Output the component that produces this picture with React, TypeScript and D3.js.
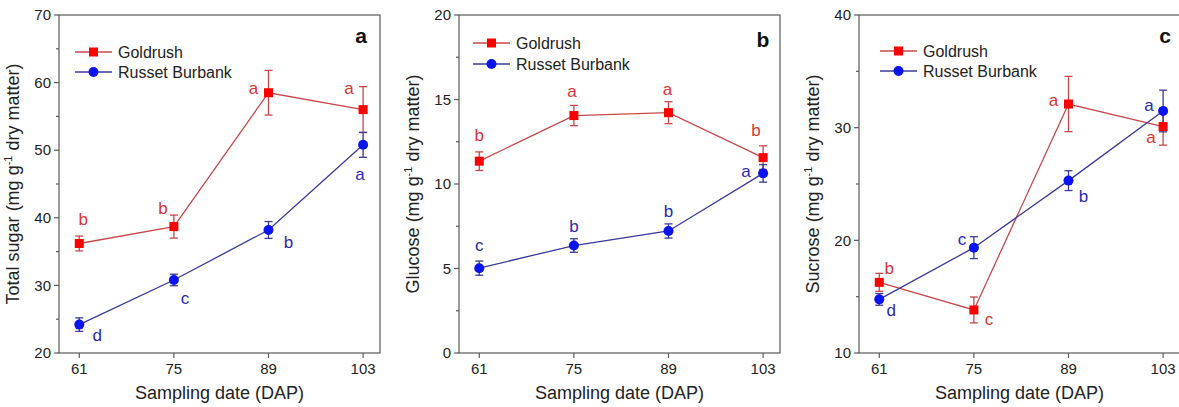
import React from "react";
import * as d3 from "d3";

const dap = [61, 75, 89, 103];
const seriesNames = ["Goldrush", "Russet Burbank"];

// Panel a: total sugar
const sugarGold = [36.2, 38.7, 58.5, 56.0];
const sugarGoldErr = [1.1, 1.7, 3.3, 3.4];
const sugarRusset = [24.2, 30.8, 38.2, 50.8];
const sugarRussetErr = [1.0, 0.85, 1.25, 1.85];
const sugarGoldLetters = ["b", "b", "a", "a"];
const sugarRussetLetters = ["d", "c", "b", "a"];

// Panel b: glucose
const glucGold = [11.35, 14.05, 14.22, 11.56];
const glucGoldErr = [0.55, 0.6, 0.65, 0.7];
const glucRusset = [5.02, 6.36, 7.22, 10.63];
const glucRussetErr = [0.42, 0.4, 0.42, 0.52];
const glucGoldLetters = ["b", "a", "a", "b"];
const glucRussetLetters = ["c", "b", "b", "a"];

// Panel c: sucrose
const sucGold = [16.27, 13.82, 32.1, 30.1];
const sucGoldErr = [0.8, 1.15, 2.45, 1.65];
const sucRusset = [14.76, 19.35, 25.3, 31.48];
const sucRussetErr = [0.52, 0.97, 0.88, 1.85];
const sucGoldLetters = ["b", "c", "a", "a"];
const sucRussetLetters = ["d", "c", "b", "a"];

// letter placement offsets (dx to centre, dy to baseline) in px
const offA = {
  g: [[4, -18], [-11, -13], [-15, 1], [-14, -16]],
  r: [[18, 16], [11, 24], [20, 18], [-3, 35]],
};
const offB = {
  g: [[0, -20], [-2, -19], [-1, -18], [-7, -22]],
  r: [[0, -17], [0, -14], [0, -14], [-17, 4]],
};
const offC = {
  g: [[10, -8], [15, 15], [-15, 2], [-12, 16]],
  r: [[12, 17], [-12, -3], [15, 21], [-14, 0]],
};

const RED = "#ff0000";
const RED_LINE = "#c8484a";
const RED_TEXT = "#dd3333";
const BLUE = "#0a14f0";
const BLUE_LINE = "#3a3a98";
const BLUE_TEXT = "#2a2ab0";
const AXIS = "#5a5a5a";
const FONT = "Liberation Sans, Arial, sans-serif";

interface PanelCfg {
  left: number;
  yDomain: [number, number];
  major: number;
  minor: number;
  yLabel: string;
  tag: string;
  tagPos: [number, number];
  legend: [number, number, number]; // line start x, row1 y, row2 y
  gold: number[];
  goldErr: number[];
  russet: number[];
  russetErr: number[];
  goldLetters: string[];
  russetLetters: string[];
  off: { g: number[][]; r: number[][] };
}

const panels: PanelCfg[] = [
  {
    left: 59, yDomain: [20, 70], major: 10, minor: 5, yLabel: "Total sugar",
    tag: "a", tagPos: [361, 43], legend: [75, 52, 72],
    gold: sugarGold, goldErr: sugarGoldErr, russet: sugarRusset, russetErr: sugarRussetErr,
    goldLetters: sugarGoldLetters, russetLetters: sugarRussetLetters, off: offA,
  },
  {
    left: 459, yDomain: [0, 20], major: 5, minor: 2.5, yLabel: "Glucose",
    tag: "b", tagPos: [763, 47], legend: [473, 43, 64],
    gold: glucGold, goldErr: glucGoldErr, russet: glucRusset, russetErr: glucRussetErr,
    goldLetters: glucGoldLetters, russetLetters: glucRussetLetters, off: offB,
  },
  {
    left: 859, yDomain: [10, 40], major: 10, minor: 5, yLabel: "Sucrose",
    tag: "c", tagPos: [1165, 43], legend: [880, 51, 71],
    gold: sucGold, goldErr: sucGoldErr, russet: sucRusset, russetErr: sucRussetErr,
    goldLetters: sucGoldLetters, russetLetters: sucRussetLetters, off: offC,
  },
];

const TOP = 15;
const BOTTOM = 353;
const WIDTH = 321;

function Panel({ p }: { p: PanelCfg }) {
  const x = d3.scaleLinear().domain([58, 105.5]).range([p.left, p.left + WIDTH]);
  const y = d3.scaleLinear().domain(p.yDomain).range([BOTTOM, TOP]);
  const majors = d3.range(p.yDomain[0], p.yDomain[1] + 0.001, p.major);
  const minors = d3.range(p.yDomain[0], p.yDomain[1] + 0.001, p.minor).filter(
    (v) => Math.abs(v / p.major - Math.round(v / p.major)) > 1e-6
  );
  const line = d3.line<number>().x((_, i) => x(dap[i])).y((v) => y(v));
  const series = [
    { vals: p.gold, err: p.goldErr, lc: RED_LINE, mc: RED, tc: RED_TEXT, letters: p.goldLetters, off: p.off.g, shape: "sq" },
    { vals: p.russet, err: p.russetErr, lc: BLUE_LINE, mc: BLUE, tc: BLUE_TEXT, letters: p.russetLetters, off: p.off.r, shape: "ci" },
  ];
  const cx = p.left + WIDTH / 2;
  const cy = (TOP + BOTTOM) / 2;
  const [lx, ly1, ly2] = p.legend;
  return (
    <g>
      {/* frame */}
      <rect x={p.left} y={TOP} width={WIDTH} height={BOTTOM - TOP} fill="none" stroke={AXIS} strokeWidth={1.2} />
      {/* y ticks */}
      {majors.map((v) => (
        <g key={"M" + v}>
          <line x1={p.left - 5} x2={p.left} y1={y(v)} y2={y(v)} stroke={AXIS} strokeWidth={1.2} />
          <text x={p.left - 8} y={y(v)} dy="0.35em" textAnchor="end" fontSize={15} fill="#222">{v}</text>
        </g>
      ))}
      {minors.map((v) => (
        <line key={"m" + v} x1={p.left - 3} x2={p.left} y1={y(v)} y2={y(v)} stroke={AXIS} strokeWidth={1.2} />
      ))}
      {/* x ticks */}
      {dap.map((d) => (
        <g key={"x" + d}>
          <line x1={x(d)} x2={x(d)} y1={BOTTOM} y2={BOTTOM + 5} stroke={AXIS} strokeWidth={1.2} />
          <text x={x(d)} y={BOTTOM + 21} textAnchor="middle" fontSize={15} fill="#222">{d}</text>
        </g>
      ))}
      <text x={cx} y={399} textAnchor="middle" fontSize={18} fill="#222">Sampling date (DAP)</text>
      <text transform={`translate(${p.left - 40},${cy}) rotate(-90)`} textAnchor="middle" fontSize={18} fill="#222">
        {p.yLabel} (mg g<tspan dy={-7} fontSize={11}>-1</tspan><tspan dy={7}> dry matter)</tspan>
      </text>
      <text x={p.tagPos[0]} y={p.tagPos[1]} textAnchor="middle" fontSize={21} fontWeight="bold" fill="#111">{p.tag}</text>
      {/* lines */}
      {series.map((s, k) => (
        <path key={"l" + k} d={line(s.vals) || ""} fill="none" stroke={s.lc} strokeWidth={1.3} />
      ))}
      {/* error bars */}
      {series.map((s, k) =>
        s.vals.map((v, i) => (
          <g key={"e" + k + i} stroke={s.lc} strokeWidth={1.3}>
            <line x1={x(dap[i])} x2={x(dap[i])} y1={y(v - s.err[i])} y2={y(v + s.err[i])} />
            <line x1={x(dap[i]) - 4} x2={x(dap[i]) + 4} y1={y(v - s.err[i])} y2={y(v - s.err[i])} />
            <line x1={x(dap[i]) - 4} x2={x(dap[i]) + 4} y1={y(v + s.err[i])} y2={y(v + s.err[i])} />
          </g>
        ))
      )}
      {/* markers */}
      {series.map((s, k) =>
        s.vals.map((v, i) =>
          s.shape === "sq" ? (
            <rect key={"p" + k + i} x={x(dap[i]) - 4.5} y={y(v) - 4.5} width={9} height={9} fill={s.mc} />
          ) : (
            <circle key={"p" + k + i} cx={x(dap[i])} cy={y(v)} r={5} fill={s.mc} />
          )
        )
      )}
      {/* letters */}
      {series.map((s, k) =>
        s.letters.map((t, i) => (
          <text key={"t" + k + i} x={x(dap[i]) + s.off[i][0]} y={y(s.vals[i]) + s.off[i][1]} textAnchor="middle" fontSize={17} fill={s.tc}>{t}</text>
        ))
      )}
      {/* legend */}
      <line x1={lx} x2={lx + 37} y1={ly1} y2={ly1} stroke={RED_LINE} strokeWidth={1.3} />
      <rect x={lx + 18.5 - 4.5} y={ly1 - 4.5} width={9} height={9} fill={RED} />
      <text x={lx + 43} y={ly1} dy="0.35em" fontSize={16} fill="#222">{seriesNames[0]}</text>
      <line x1={lx} x2={lx + 37} y1={ly2} y2={ly2} stroke={BLUE_LINE} strokeWidth={1.3} />
      <circle cx={lx + 18.5} cy={ly2} r={5} fill={BLUE} />
      <text x={lx + 43} y={ly2} dy="0.35em" fontSize={16} fill="#222">{seriesNames[1]}</text>
    </g>
  );
}

export default function App() {
  return (
    <svg
      width={1179}
      height={407}
      style={{ position: "absolute", left: 0, top: 0, background: "#fff" }}
      fontFamily={FONT}
    >
      <rect width={1179} height={407} fill="#fff" />
      {panels.map((p) => (
        <Panel key={p.tag} p={p} />
      ))}
    </svg>
  );
}
